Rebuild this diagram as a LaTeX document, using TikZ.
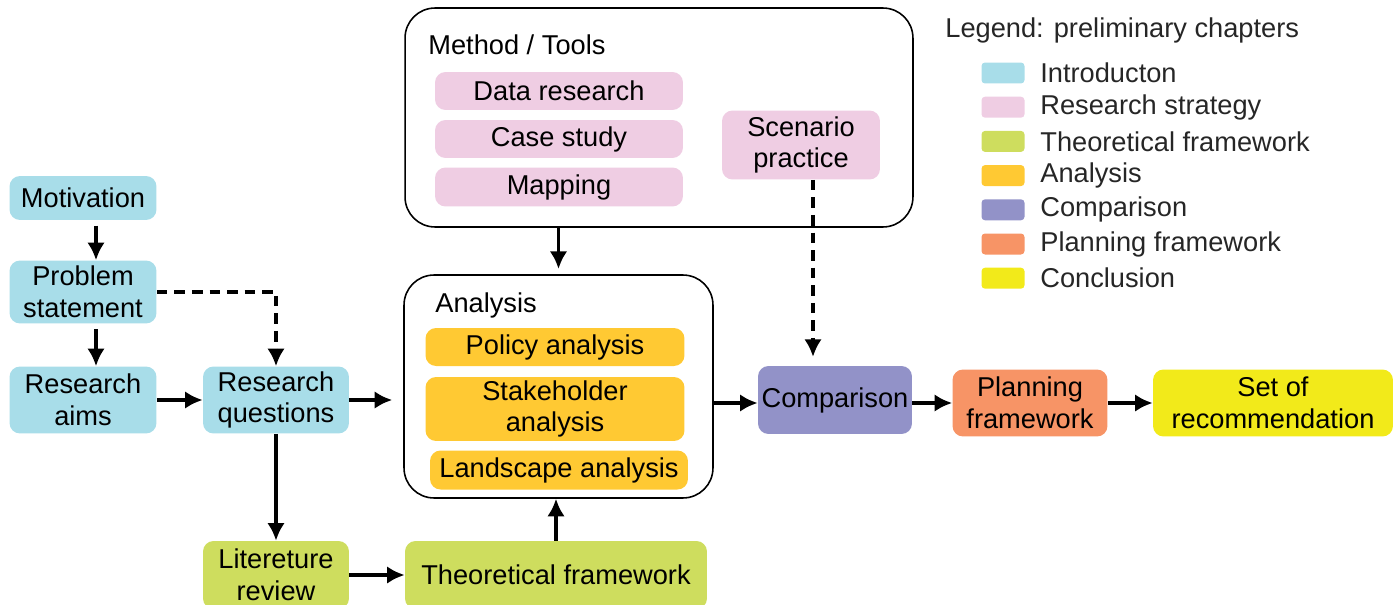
\documentclass[tikz,border=0pt]{standalone}
\usepackage{fontspec}
\setmainfont{Liberation Sans}
\usepackage{xcolor}
\usepackage{tikz}
\usetikzlibrary{arrows}
\usetikzlibrary{arrows.meta}

\definecolor{introC}{RGB}{168,221,233}
\definecolor{stratC}{RGB}{239,205,227}
\definecolor{theoC}{RGB}{206,221,94}
\definecolor{anaC}{RGB}{255,201,51}
\definecolor{cmpC}{RGB}{146,146,200}
\definecolor{planC}{RGB}{247,148,102}
\definecolor{conclC}{RGB}{242,234,26}

\begin{document}
\begin{tikzpicture}[x = 0.02cm, y = -0.02cm, >={Latex[length = 10pt, width = 10pt]},
  every node/.style = {font = \fontsize{15.5}{18}\selectfont},
  chap/.style = {rounded corners = 6pt, inner sep = 0pt, align = center},
  group/.style = {draw, line width = 0.9pt, rounded corners = 0.6cm, inner sep = 0pt},
  arr/.style = {->, line width = 2.2pt},
  darr/.style = {->, line width = 2.2pt, dash pattern = on 6pt off 4pt},
  swatch/.style = {rounded corners = 2pt, minimum width = 0.86cm, minimum height = 0.42cm, inner sep = 0pt},
  legtxt/.style = {anchor = west, inner sep = 0pt, text = black!85}]
\useasboundingbox (0, 0) rectangle (1400, 605);
\def\legX{1003}
\def\legY{73}
\def\legD{34.2}

% introduction
\node (mot) [chap, fill = introC, minimum width = 2.94cm, minimum height = 0.88cm] at (83, 198) {Motivation};
\node (prob) [chap, fill = introC, minimum width = 2.94cm, minimum height = 1.26cm] at (83, 292) {Problem\\statement};
\node (aims) [chap, fill = introC, minimum width = 2.94cm, minimum height = 1.34cm] at (83, 400) {Research\\aims};
\node (rq) [chap, fill = introC, minimum width = 2.92cm, minimum height = 1.34cm] at (276, 400) {Research\\questions};
\coordinate (mx) at (96, 0);

% theoretical framework
\node (lit) [chap, fill = theoC, minimum width = 2.92cm, minimum height = 1.36cm] at (276, 575) {Litereture\\review};
\node (theo) [chap, fill = theoC, minimum width = 6.04cm, minimum height = 1.36cm] at (556, 575) {Theoretical framework};

% method / tools
\node (meth) [group, minimum width = 10.16cm, minimum height = 4.38cm] at (659, 117.5) {};
\node (methlbl) [anchor = west, inner sep = 0pt] at (428, 45) {Method / Tools};
\node (data) [chap, fill = stratC, minimum width = 4.96cm, minimum height = 0.76cm] at (559, 91) {Data research};
\node (case) [chap, fill = stratC, minimum width = 4.96cm, minimum height = 0.76cm] at (559, 139) {Case study};
\node (mapp) [chap, fill = stratC, minimum width = 4.96cm, minimum height = 0.78cm] at (559, 187) {Mapping};
\node (scen) [chap, fill = stratC, minimum width = 3.16cm, minimum height = 1.38cm] at (801, 145) {Scenario\\practice};
\coordinate (sx) at (813, 0);

% analysis
\node (ana) [group, minimum width = 6.18cm, minimum height = 4.46cm] at (558.5, 386.5) {};
\node (analbl) [anchor = west, inner sep = 0pt] at (435, 305) {Analysis};
\node (pol) [chap, fill = anaC, minimum width = 5.18cm, minimum height = 0.76cm] at (555, 347) {Policy analysis};
\node (stake) [chap, fill = anaC, minimum width = 5.18cm, minimum height = 1.28cm] at (555, 409) {Stakeholder\\analysis};
\node (land) [chap, fill = anaC, minimum width = 5.16cm, minimum height = 0.78cm] at (559, 470) {Landscape analysis};

% comparison, planning, conclusion
\node (cmp) [chap, fill = cmpC, minimum width = 3.08cm, minimum height = 1.36cm] at (835, 400) {Comparison};
\node (plan) [chap, fill = planC, minimum width = 3.1cm, minimum height = 1.34cm] at (1030, 403) {Planning\\framework};
\node (rec) [chap, fill = conclC, minimum width = 4.8cm, minimum height = 1.34cm] at (1273, 403) {Set of\\recommendation};

% arrows
\draw [arr] ([yshift = -3pt]mot.south -| mx) -- (prob.north -| mx);
\draw [arr] ([yshift = -3pt]prob.south -| mx) -- (aims.north -| mx);
\draw [darr] (prob.east) -| (rq.north);
\draw [arr] (aims) -- (rq);
\draw [arr, shorten > = 0.22cm] (rq.east) -- (rq.east -| ana.west);
\draw [arr] (rq) -- (lit);
\draw [arr] (lit) -- (theo);
\draw [arr] (theo) -- (theo.north |- ana.south);
\draw [arr, shorten > = 3pt] (meth.south -| ana.center) -- (ana.north);
\draw [darr, shorten > = 5pt] (scen.south -| sx) -- (cmp.north -| sx);
\draw [arr] (ana.east |- plan.west) -- (cmp.west |- plan.west);
\draw [arr] (cmp.east |- plan.west) -- (plan.west);
\draw [arr] (plan) -- (rec);

% legend
\node (legtitle) [legtxt] at (945, 30) {Legend: preliminary chapters};
\node (sw1) [swatch, fill = introC] at (\legX, \legY) {};
\node (lg1) [legtxt] at (1040, \legY) {Introducton};
\node (sw2) [swatch, fill = stratC] at (\legX, \legY + \legD) {};
\node (lg2) [legtxt] at (1040, \legY + \legD) {Research strategy};
\node (sw3) [swatch, fill = theoC] at (\legX, \legY + 2*\legD) {};
\node (lg3) [legtxt] at (1040, \legY + 2*\legD) {Theoretical framework};
\node (sw4) [swatch, fill = anaC] at (\legX, \legY + 3*\legD) {};
\node (lg4) [legtxt] at (1040, \legY + 3*\legD) {Analysis};
\node (sw5) [swatch, fill = cmpC] at (\legX, \legY + 4*\legD) {};
\node (lg5) [legtxt] at (1040, \legY + 4*\legD) {Comparison};
\node (sw6) [swatch, fill = planC] at (\legX, \legY + 5*\legD) {};
\node (lg6) [legtxt] at (1040, \legY + 5*\legD) {Planning framework};
\node (sw7) [swatch, fill = conclC] at (\legX, \legY + 6*\legD) {};
\node (lg7) [legtxt] at (1040, \legY + 6*\legD) {Conclusion};
\end{tikzpicture}
\end{document}
